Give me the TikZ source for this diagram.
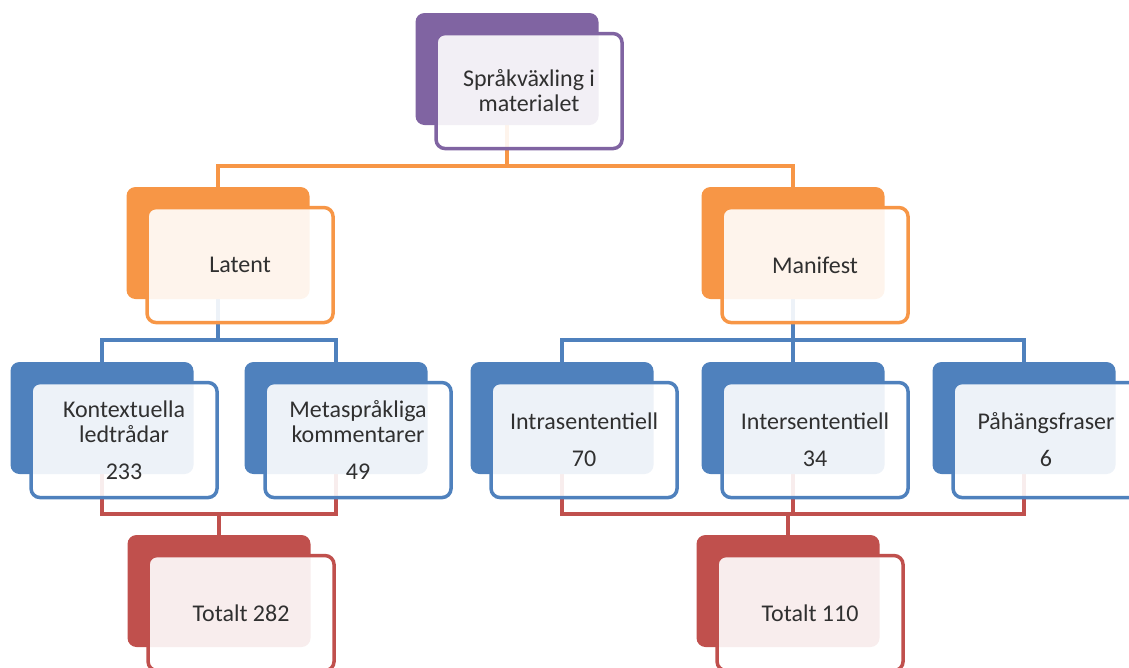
\documentclass[tikz,border=0pt]{standalone}
\usepackage{fontspec}
\setmainfont{Carlito}
\usetikzlibrary{positioning,backgrounds}

\definecolor{purp}{HTML}{8064A2}
\definecolor{orng}{HTML}{F79646}
\definecolor{blu}{HTML}{4F81BD}
\definecolor{rd}{HTML}{C0504D}
\definecolor{txt}{HTML}{303030}

\tikzset{
  back/.style={fill=#1, rounded corners=9pt, minimum width=183pt, minimum height=112pt, inner sep=0pt},
  front/.style={draw=#1, line width=3.5pt, fill=white, fill opacity=0.9, text opacity=1,
    rounded corners=9pt, minimum width=186pt, minimum height=115pt, inner sep=0pt,
    align=center, text=txt, font=\fontsize{24}{25}\selectfont},
  link/.style={draw=#1, line width=3.5pt},
}

\begin{document}
\begin{tikzpicture}[x=1pt, y=-1pt]
  \useasboundingbox (0,0) rectangle (1129,667);

  % level 1
  \node[back=purp] (TopBack) at (507,69) {};
  \node[front=purp, below right=19pt and 19pt of TopBack.north west] (Top) {Språkväxling i\\materialet};

  % level 2
  \node[back=orng] (LatentBack) at (218,243) {};
  \node[front=orng, below right=19pt and 19pt of LatentBack.north west] (Latent) {Latent};
  \node[back=orng] (ManifestBack) at (793,243) {};
  \node[front=orng, below right=19pt and 19pt of ManifestBack.north west] (Manifest) {Manifest};

  % level 3
  \node[back=blu] (KontBack) at (102,418) {};
  \node[front=blu, below right=19pt and 19pt of KontBack.north west] (Kont) {Kontextuella\\ledtrådar\\[12pt]233};
  \node[back=blu] (MetaBack) at (336,418) {};
  \node[front=blu, below right=19pt and 19pt of MetaBack.north west] (Meta) {Metaspråkliga\\kommentarer\\[12pt]49};
  \node[back=blu] (IntraBack) at (562,418) {};
  \node[front=blu, below right=19pt and 19pt of IntraBack.north west] (Intra) {Intrasententiell\\[12pt]70};
  \node[back=blu] (InterBack) at (793,418) {};
  \node[front=blu, below right=19pt and 19pt of InterBack.north west] (Inter) {Intersententiell\\[12pt]34};
  \node[back=blu] (PahBack) at (1024,418) {};
  \node[front=blu, below right=19pt and 19pt of PahBack.north west] (Pah) {Påhängsfraser\\[12pt]6};

  % totals
  \node[back=rd] (TotLatBack) at (219,591) {};
  \node[front=rd, below right=19pt and 19pt of TotLatBack.north west] (TotLat) {Totalt 282};
  \node[back=rd] (TotManBack) at (788,591) {};
  \node[front=rd, below right=19pt and 19pt of TotManBack.north west] (TotMan) {Totalt 110};

  \begin{pgfonlayer}{background}
    \draw[link=orng] (TopBack.south) -- ++(0,41) -| (LatentBack.north);
    \draw[link=orng] (TopBack.south) -- ++(0,41) -| (ManifestBack.north);

    \draw[link=blu] (LatentBack.south) -- ++(0,41) -| (KontBack.north);
    \draw[link=blu] (LatentBack.south) -- ++(0,41) -| (MetaBack.north);
    \draw[link=blu] (ManifestBack.south) -- ++(0,41) -| (IntraBack.north);
    \draw[link=blu] (ManifestBack.south) -- ++(0,41) -| (InterBack.north);
    \draw[link=blu] (ManifestBack.south) -- ++(0,41) -| (PahBack.north);

    \draw[link=rd] (KontBack.south) -- ++(0,40) -| (TotLatBack.north);
    \draw[link=rd] (MetaBack.south) -- ++(0,40) -| (TotLatBack.north);
    \draw[link=rd] (IntraBack.south) -- ++(0,40) -| (TotManBack.north);
    \draw[link=rd] (InterBack.south) -- ++(0,40) -| (TotManBack.north);
    \draw[link=rd] (PahBack.south) -- ++(0,40) -| (TotManBack.north);
  \end{pgfonlayer}
\end{tikzpicture}
\end{document}
